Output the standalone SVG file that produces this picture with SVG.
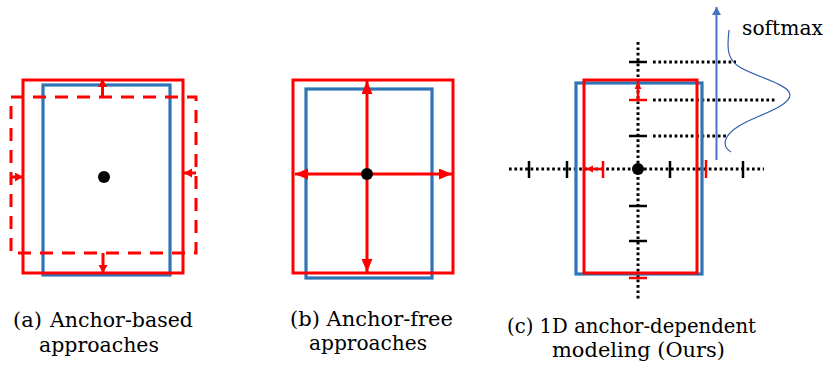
<svg xmlns="http://www.w3.org/2000/svg" width="828" height="365" viewBox="0 0 828 365">
  <defs>
    <marker id="headA" markerUnits="userSpaceOnUse" markerWidth="10" markerHeight="10" refX="8" refY="4.5" orient="auto">
      <path d="M0,0 L8,4.5 L0,9 z" fill="#FF0000"/>
    </marker>
    <marker id="headB" markerUnits="userSpaceOnUse" markerWidth="14" markerHeight="12" refX="13" refY="5.5" orient="auto">
      <path d="M0,0 L13,5.5 L0,11 z" fill="#FF0000"/>
    </marker>
    <marker id="headC" markerUnits="userSpaceOnUse" markerWidth="8" markerHeight="8" refX="7" refY="3.5" orient="auto">
      <path d="M0,0 L7,3.5 L0,7 z" fill="#FF0000"/>
    </marker>
    <marker id="headBlue" markerUnits="userSpaceOnUse" markerWidth="10" markerHeight="10" refX="8" refY="4.5" orient="auto">
      <path d="M0,0 L8,4.5 L0,9 z" fill="#4472C4"/>
    </marker>
  </defs>
  <style>
    .red { fill: none; stroke: #FF0000; stroke-width: 3; }
    .blue { fill: none; stroke: #2E75B6; stroke-width: 3.2; }
    .dash { fill: none; stroke: #FF0000; stroke-width: 3; stroke-dasharray: 13 9; }
    .arr { stroke: #FF0000; stroke-width: 3; fill: none; }
    .dot { fill: #000; }
    .dotted { stroke: #000; stroke-width: 3; stroke-dasharray: 2.7 2.7; fill: none; }
    .tick { stroke: #000; stroke-width: 2.5; }
    .rtick { stroke: #FF0000; stroke-width: 2.5; }
    .cap { font-family: "DejaVu Serif", "Liberation Serif", serif; font-size: 21px; fill: #000; }
  </style>

  <!-- Panel (a) -->
  <g id="panel-a">
    <rect class="blue" x="43" y="85" width="127" height="190"/>
    <rect class="red" x="23" y="80" width="160" height="193"/>
    <rect class="dash" x="11" y="97" width="185" height="156"/>
    <circle class="dot" cx="104" cy="177" r="6"/>
  </g>
  <g id="connectors-a">
    <line class="arr" x1="102.5" y1="97" x2="102.5" y2="79" marker-end="url(#headA)"/>
    <line class="arr" x1="103" y1="253" x2="103" y2="273" marker-end="url(#headA)"/>
    <line class="arr" x1="11" y1="177" x2="23" y2="177" marker-end="url(#headA)"/>
    <line class="arr" x1="196" y1="173" x2="184" y2="173" marker-end="url(#headA)"/>
  </g>

  <!-- Panel (b) -->
  <g id="panel-b">
    <rect class="blue" x="306" y="89" width="126" height="189"/>
    <rect class="red" x="293" y="80" width="160" height="193"/>
  </g>
  <g id="connectors-b">
    <line class="arr" x1="367" y1="174" x2="367" y2="81" marker-end="url(#headB)"/>
    <line class="arr" x1="367" y1="174" x2="367" y2="272" marker-end="url(#headB)"/>
    <line class="arr" x1="367" y1="174" x2="295" y2="174" marker-end="url(#headB)"/>
    <line class="arr" x1="367" y1="174" x2="452" y2="174" marker-end="url(#headB)"/>
  </g>
  <g id="center-b">
    <circle class="dot" cx="367" cy="174" r="6"/>
  </g>

  <!-- Panel (c) -->
  <g id="axes-c">
    <line class="dotted" x1="638" y1="42" x2="638" y2="300"/>
    <line class="dotted" x1="509" y1="169" x2="764" y2="169"/>
    <line class="dotted" x1="653" y1="62" x2="736" y2="62"/>
    <line class="dotted" x1="653" y1="100" x2="777" y2="100"/>
    <line class="dotted" x1="653" y1="136" x2="727" y2="136"/>
  </g>
  <g id="panel-c">
    <rect class="blue" x="576" y="83" width="126" height="191"/>
    <rect class="red" x="584" y="80" width="113" height="193"/>
  </g>
  <g id="ticks-c">
    <line class="tick" x1="629" y1="62" x2="647" y2="62"/>
    <line class="tick" x1="629" y1="136" x2="647" y2="136"/>
    <line class="tick" x1="629" y1="206" x2="647" y2="206"/>
    <line class="tick" x1="629" y1="241" x2="647" y2="241"/>
    <line class="tick" x1="529" y1="161" x2="529" y2="178"/>
    <line class="tick" x1="567" y1="161" x2="567" y2="178"/>
    <line class="tick" x1="670" y1="161" x2="670" y2="178"/>
    <line class="tick" x1="743" y1="161" x2="743" y2="178"/>
    <line class="rtick" x1="629" y1="100" x2="647" y2="100"/>
    <line class="rtick" x1="629" y1="278" x2="647" y2="278"/>
    <line class="rtick" x1="603" y1="161" x2="603" y2="178"/>
    <line class="rtick" x1="706" y1="160" x2="706" y2="178"/>
  </g>
  <g id="connectors-c">
    <line stroke="#FF0000" stroke-width="2.5" x1="638" y1="100" x2="638" y2="82" marker-end="url(#headC)"/>
    <line stroke="#FF0000" stroke-width="2.5" x1="603" y1="169" x2="586" y2="169" marker-end="url(#headC)"/>
    <line stroke="#4472C4" stroke-width="2" x1="716.5" y1="160" x2="716.5" y2="7" marker-end="url(#headBlue)"/>
  </g>
  <g id="center-c">
    <circle class="dot" cx="638" cy="169" r="6"/>
  </g>
  <g id="softmax">
    <path d="M729,30 C727,48 727,58 738,66 C752,76 790,84 790,95 C790,107 752,117 739,126 C724,135 721,146 731,152" fill="none" stroke="#2E5FA8" stroke-width="1.2"/>
    <text class="cap" x="742" y="35" textLength="81" lengthAdjust="spacingAndGlyphs">softmax</text>
  </g>

  <!-- Captions -->
  <g id="captions">
    <text class="cap" x="13" y="327">(a)</text>
    <text class="cap" x="50" y="327" textLength="143" lengthAdjust="spacingAndGlyphs">Anchor-based</text>
    <text class="cap" x="39" y="352" textLength="120" lengthAdjust="spacingAndGlyphs">approaches</text>
    <text class="cap" x="290" y="326" textLength="163" lengthAdjust="spacingAndGlyphs">(b) Anchor-free</text>
    <text class="cap" x="309" y="350" textLength="118" lengthAdjust="spacingAndGlyphs">approaches</text>
    <text class="cap" x="507" y="333" textLength="249" lengthAdjust="spacingAndGlyphs">(c) 1D anchor-dependent</text>
    <text class="cap" x="552" y="357" textLength="173" lengthAdjust="spacingAndGlyphs">modeling (Ours)</text>
  </g>
</svg>
